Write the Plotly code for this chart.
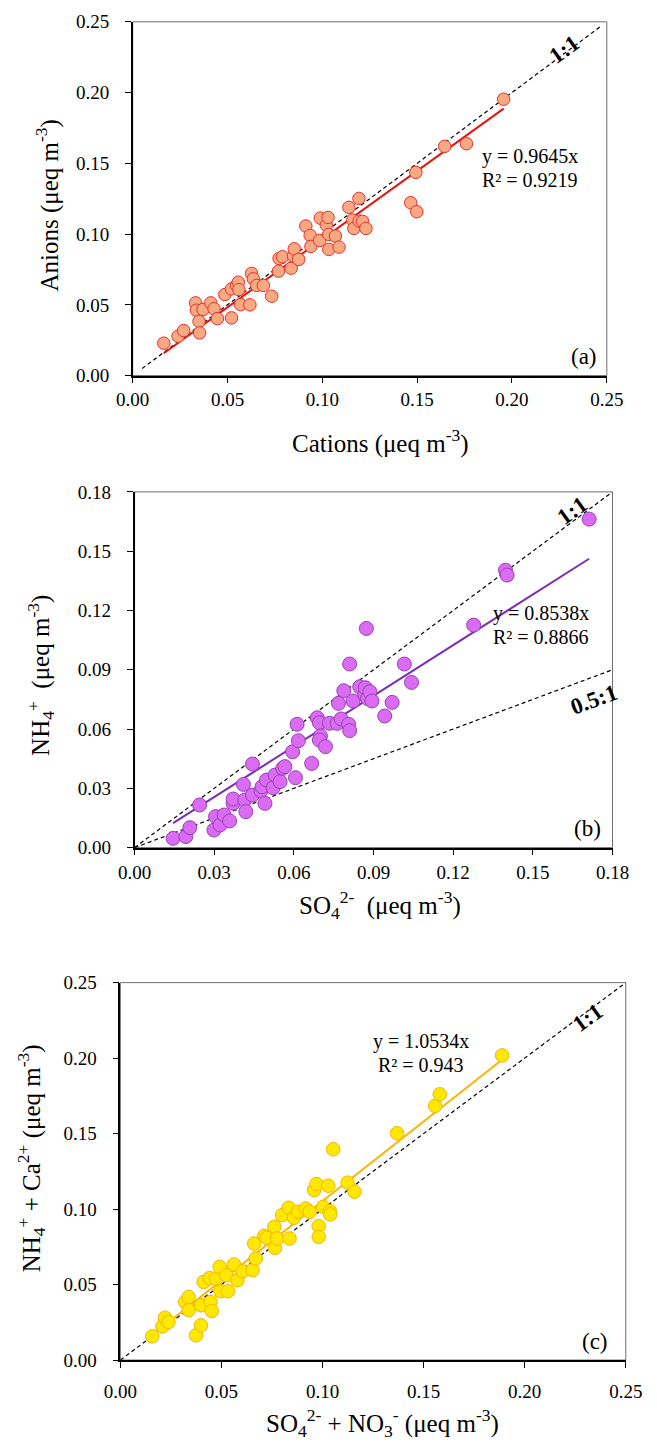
import plotly.graph_objects as go

# ---- data ----
# (a) cations vs anions
cations = [0.0164, 0.0239, 0.0269, 0.0332, 0.0336, 0.0350, 0.0353, 0.0371, 0.0412, 0.0429,
           0.0447, 0.0486, 0.0521, 0.0521, 0.0548, 0.0557, 0.0560, 0.0569, 0.0618, 0.0627,
           0.0636, 0.0654, 0.0689, 0.0733, 0.0769, 0.0772, 0.0790, 0.0836, 0.0848, 0.0852,
           0.0875, 0.0913, 0.0936, 0.0940, 0.0986, 0.0989, 0.1021, 0.1030, 0.1034, 0.1034,
           0.1069, 0.1088, 0.1140, 0.1161, 0.1166, 0.1193, 0.1194, 0.1212, 0.1230, 0.1466,
           0.1493, 0.1498, 0.1645, 0.1760, 0.1956]
anions = [0.0229, 0.0278, 0.0318, 0.0514, 0.0462, 0.0384, 0.0302, 0.0467, 0.0514, 0.0472,
          0.0403, 0.0573, 0.0408, 0.0613, 0.0637, 0.0660, 0.0608, 0.0502, 0.0500, 0.0722,
          0.0684, 0.0637, 0.0637, 0.0561, 0.0738, 0.0828, 0.0840, 0.0759, 0.0844, 0.0896,
          0.0821, 0.1057, 0.0991, 0.0913, 0.0955, 0.1113, 0.1064, 0.1118, 0.0892, 0.0998,
          0.0986, 0.0908, 0.1189, 0.1099, 0.1040, 0.1252, 0.1092, 0.1090, 0.1040, 0.1222,
          0.1436, 0.1158, 0.1620, 0.1639, 0.1953]

# (b) SO4 vs NH4
so4 = [0.0145, 0.0193, 0.0208, 0.0245, 0.0299, 0.0305, 0.0322, 0.0337, 0.0358, 0.0371,
       0.0371, 0.0410, 0.0415, 0.0419, 0.0444, 0.0444, 0.0476, 0.0480, 0.0491, 0.0497,
       0.0522, 0.0529, 0.0548, 0.0558, 0.0566, 0.0595, 0.0606, 0.0612, 0.0617, 0.0667,
       0.0688, 0.0696, 0.0700, 0.0696, 0.0719, 0.0734, 0.0763, 0.0768, 0.0778, 0.0788,
       0.0806, 0.0810, 0.0810, 0.0823, 0.0848, 0.0867, 0.0869, 0.0873, 0.0877, 0.0886,
       0.0894, 0.0942, 0.0970, 0.1016, 0.1043, 0.1277, 0.1397, 0.1403, 0.1712]
nh4 = [0.0047, 0.0056, 0.0101, 0.0216, 0.0089, 0.0157, 0.0115, 0.0165, 0.0135, 0.0224,
       0.0246, 0.0320, 0.0241, 0.0182, 0.0266, 0.0423, 0.0287, 0.0308, 0.0224, 0.0342,
       0.0303, 0.0367, 0.0334, 0.0401, 0.0410, 0.0485, 0.0354, 0.0624, 0.0541, 0.0426,
       0.0657, 0.0632, 0.0565, 0.0544, 0.0511, 0.0629, 0.0629, 0.0730, 0.0651, 0.0794,
       0.0624, 0.0592, 0.0929, 0.0742, 0.0814, 0.0772, 0.0809, 0.1109, 0.0755, 0.0789,
       0.0742, 0.0666, 0.0735, 0.0929, 0.0836, 0.1126, 0.1404, 0.1379, 0.1662]

# (c) SO4+NO3 vs NH4+Ca
so4_no3 = [0.0158, 0.0208, 0.0221, 0.0238, 0.0321, 0.0338, 0.0338, 0.0374, 0.0399, 0.0399,
           0.0412, 0.0446, 0.0452, 0.0442, 0.0474, 0.0491, 0.0496, 0.0524, 0.0532, 0.0562,
           0.0579, 0.0604, 0.0654, 0.0662, 0.0670, 0.0712, 0.0723, 0.0762, 0.0765, 0.0775,
           0.0800, 0.0832, 0.0837, 0.0858, 0.0878, 0.0917, 0.0936, 0.0958, 0.0970, 0.0981,
           0.0981, 0.1003, 0.1028, 0.1036, 0.1038, 0.1053, 0.1124, 0.1158, 0.1369, 0.1557,
           0.1580, 0.1888]
nh4_ca = [0.0157, 0.0223, 0.0281, 0.0252, 0.0385, 0.0418, 0.0330, 0.0164, 0.0230, 0.0363,
          0.0518, 0.0385, 0.0325, 0.0544, 0.0540, 0.0617, 0.0456, 0.0562, 0.0456, 0.0633,
          0.0529, 0.0588, 0.0595, 0.0772, 0.0673, 0.0823, 0.0810, 0.0883, 0.0743, 0.0805,
          0.0960, 0.1009, 0.0805, 0.0942, 0.0982, 0.1004, 0.0982, 0.1126, 0.1166, 0.0887,
          0.0816, 0.1015, 0.1155, 0.0987, 0.0965, 0.1396, 0.1175, 0.1115, 0.1502, 0.1684,
          0.1761, 0.2018]

# fitted slopes (through origin)
slope_a, r2_a = 0.9645, 0.9219
slope_b, r2_b = 0.8538, 0.8866
slope_c, r2_c = 1.0534, 0.943

# reference lines
ref_a = [0.005, 0.2475]
ref_b = [0.0, 0.18]
ref_c = [0.0, 0.25]

W, H = 657, 1443
FONT = "Liberation Serif, Times New Roman, serif"


def px(x):
    return x / W


def py(y):
    return 1 - y / H


fig = go.Figure()

# panel (a)
fig.add_trace(go.Scatter(x=ref_a, y=ref_a, mode='lines', xaxis='x', yaxis='y',
                         line=dict(color='black', width=1.2, dash='4px,3px')))
fit_x = [min(cations), max(cations)]
fig.add_trace(go.Scatter(x=fit_x, y=[slope_a * v for v in fit_x], mode='lines',
                         xaxis='x', yaxis='y', line=dict(color='#E8120C', width=2)))
fig.add_trace(go.Scatter(x=cations, y=anions, mode='markers', xaxis='x', yaxis='y',
                         marker=dict(size=12.5, color='#F9A982',
                                     line=dict(color='#E5322A', width=1))))

# panel (b)
fig.add_trace(go.Scatter(x=ref_b, y=ref_b, mode='lines', xaxis='x2', yaxis='y2',
                         line=dict(color='black', width=1.2, dash='4px,3px')))
fig.add_trace(go.Scatter(x=ref_b, y=[0.5 * v for v in ref_b], mode='lines', xaxis='x2', yaxis='y2',
                         line=dict(color='black', width=1.2, dash='4px,3px')))
fit_x = [min(so4), max(so4)]
fig.add_trace(go.Scatter(x=fit_x, y=[slope_b * v for v in fit_x], mode='lines',
                         xaxis='x2', yaxis='y2', line=dict(color='#7A2EB8', width=2)))
fig.add_trace(go.Scatter(x=so4, y=nh4, mode='markers', xaxis='x2', yaxis='y2',
                         marker=dict(size=14, color='#D96CF2',
                                     line=dict(color='#9B40B5', width=1))))

# panel (c)
fig.add_trace(go.Scatter(x=ref_c, y=ref_c, mode='lines', xaxis='x3', yaxis='y3',
                         line=dict(color='black', width=1.2, dash='4px,3px')))
fit_x = [min(so4_no3), max(so4_no3)]
fig.add_trace(go.Scatter(x=fit_x, y=[slope_c * v for v in fit_x], mode='lines',
                         xaxis='x3', yaxis='y3', line=dict(color='#FFB300', width=2)))
fig.add_trace(go.Scatter(x=so4_no3, y=nh4_ca, mode='markers', xaxis='x3', yaxis='y3',
                         marker=dict(size=13.5, color='#FFE800',
                                     line=dict(color='#F2B600', width=1))))


def axis(domain, rng, dtick, anchor, standoff):
    return dict(domain=domain, range=rng, dtick=dtick, tick0=0, tickformat='.2f',
                anchor=anchor, showgrid=False, zeroline=False, showline=True,
                linecolor='black', linewidth=1.5, ticks='outside', ticklen=6,
                tickwidth=1.2, tickcolor='black', ticklabelstandoff=standoff,
                tickfont=dict(family=FONT, size=19, color='black'))


# pixel boxes of the three plot areas: (left, top, right, bottom)
box_a = (122, 12, 622, 371)
box_b = (124, 489, 628, 850)
box_c = (109, 987, 642, 1370)

fig.update_layout(
    xaxis=axis([px(box_a[0]), px(box_a[2])], [0, 0.25], 0.05, 'y', 0),
    yaxis=axis([py(box_a[3]), py(box_a[1])], [0, 0.25], 0.05, 'x', 12),
    xaxis2=axis([px(box_b[0]), px(box_b[2])], [0, 0.18], 0.03, 'y2', 1),
    yaxis2=axis([py(box_b[3]), py(box_b[1])], [0, 0.18], 0.03, 'x2', 12),
    xaxis3=axis([px(box_c[0]), px(box_c[2])], [0, 0.25], 0.05, 'y3', 7),
    yaxis3=axis([py(box_c[3]), py(box_c[1])], [0, 0.25], 0.05, 'x3', 12),
)

# thin border around each plot area
shapes = []
for b in (box_a, box_b, box_c):
    shapes.append(dict(type='rect', xref='paper', yref='paper',
                       x0=px(b[0]), x1=px(b[2]), y0=py(b[3]), y1=py(b[1]),
                       line=dict(color='#6E6E6E', width=1), layer='below'))

annotations = []


def text(x, y, s, size, angle=0, bold=False, xanchor='center'):
    annotations.append(dict(x=px(x), y=py(y), xref='paper', yref='paper', text=s,
                            showarrow=False, textangle=angle, xanchor=xanchor,
                            yanchor='middle',
                            font=dict(family=FONT, size=size, color='black',
                                      weight='bold' if bold else 'normal')))


# axis titles
text(32, 198, 'Anions (μeq m<sup>-3</sup>)', 25, angle=-90)
text(383, 438, 'Cations (μeq m<sup>-3</sup>)', 25)
text(25, 675, 'NH<sub>4</sub><sup>+</sup>  (μeq m<sup>-3</sup>)', 25, angle=-90)
text(383, 908, 'SO<sub>4</sub><sup>2-</sup>  (μeq m<sup>-3</sup>)', 25)
text(15, 1165, 'NH<sub>4</sub><sup>+</sup> + Ca<sup>2+</sup> (μeq m<sup>-3</sup>)', 25, angle=-90)
text(385, 1434, 'SO<sub>4</sub><sup>2-</sup> + NO<sub>3</sub><sup>-</sup> (μeq m<sup>-3</sup>)', 25)

# regression equations
text(488, 149, f'y = {slope_a}x', 20, xanchor='left')
text(488, 173, f'R² = {r2_a}', 20, xanchor='left')
text(500, 612, f'y = {slope_b}x', 20, xanchor='left')
text(500, 636, f'R² = {r2_b}', 20, xanchor='left')
text(426, 1047, f'y = {slope_c}x', 20)
text(426, 1071, f'R² = {r2_c}', 20)

# ratio line labels
text(577, 40, '1:1', 23, angle=-36, bold=True)
text(586, 508, '1:1', 23, angle=-36, bold=True)
text(609, 700, '0.5:1', 23, angle=-20, bold=True)
text(602, 1022, '1:1', 23, angle=-36, bold=True)

# panel letters
text(598, 352, '(a)', 23)
text(602, 831, '(b)', 23)
text(610, 1351, '(c)', 23)

fig.update_layout(width=W, height=H, margin=dict(l=0, r=0, t=0, b=0),
                  paper_bgcolor='white', plot_bgcolor='white', showlegend=False,
                  font=dict(family=FONT), shapes=shapes, annotations=annotations)

# keep the figure flush with the page corner
fig.write_html("out.html", config={'displayModeBar': False},
               post_script="document.body.style.margin='0';document.body.style.overflow='hidden';")
